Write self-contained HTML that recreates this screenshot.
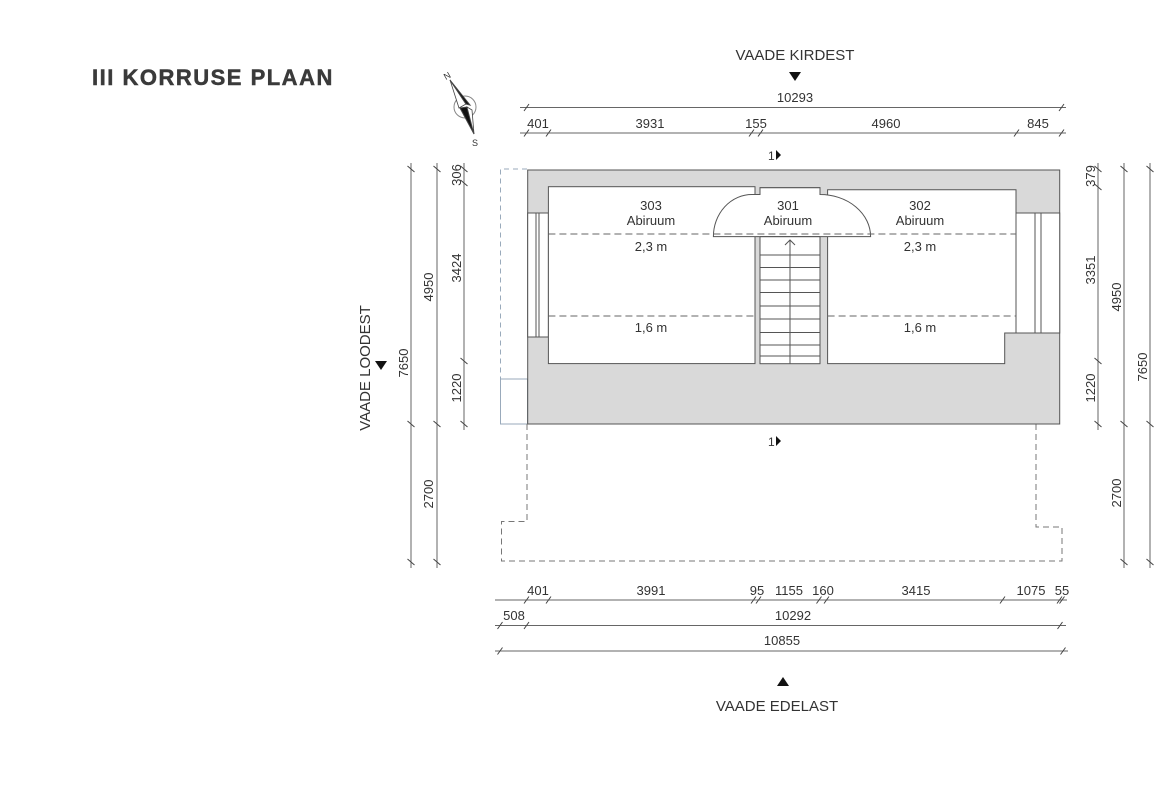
<!DOCTYPE html>
<html><head><meta charset="utf-8"><style>
html,body{margin:0;padding:0;background:#fff;}
svg{display:block;}
text{font-family:"Liberation Sans",sans-serif;fill:#333;}
</style></head><body>
<svg width="1170" height="785" viewBox="0 0 1170 785" xmlns="http://www.w3.org/2000/svg">
<text x="92" y="85" style="font-size:22px;font-weight:900;letter-spacing:1.5px;fill:#3a3a3a;stroke:#3a3a3a;stroke-width:0.5">III KORRUSE PLAAN</text>

<!-- compass -->
<g stroke="#444" fill="none">
<circle cx="465" cy="107" r="11" stroke="#888" stroke-width="1"/>
<path d="M450 80 L466 104 L459 108 Z" fill="#fff" stroke-width="0.8"/>
<path d="M450 80 L470 105 L466 104 Z" fill="#111"/>
<path d="M474 134 L460 108 L467 107 Z" fill="#111"/>
<path d="M474 134 L467 107 L472 110 Z" fill="#fff" stroke-width="0.8"/>
</g>
<text x="444" y="79" style="font-size:9px" transform="rotate(-30 447 76)">N</text>
<text x="472" y="146" style="font-size:9px">S</text>

<!-- view labels -->
<text x="795" y="60" text-anchor="middle" style="font-size:15px">VAADE KIRDEST</text>
<path d="M789 72 L801 72 L795 81 Z" fill="#111"/>
<path d="M777 686 L789 686 L783 677 Z" fill="#111"/>
<text x="777" y="711" text-anchor="middle" style="font-size:15px">VAADE EDELAST</text>
<text transform="translate(370 368) rotate(-90)" text-anchor="middle" style="font-size:15px">VAADE LOODEST</text>
<path d="M375 361 L387 361 L381 370 Z" fill="#111"/>

<!-- dimension lines -->
<g stroke="#666" stroke-width="1" fill="none">
<line x1="520" y1="107.5" x2="1066" y2="107.5"/>
<line x1="520" y1="133" x2="1066" y2="133"/>
<line x1="495" y1="600" x2="1067" y2="600"/>
<line x1="495" y1="625.5" x2="1066" y2="625.5"/>
<line x1="495" y1="651" x2="1068" y2="651"/>
<line x1="411" y1="163" x2="411" y2="568"/>
<line x1="437" y1="163" x2="437" y2="568"/>
<line x1="464" y1="163" x2="464" y2="430"/>
<line x1="1098" y1="163" x2="1098" y2="430"/>
<line x1="1124" y1="163" x2="1124" y2="568"/>
<line x1="1150" y1="163" x2="1150" y2="568"/>
</g>
<g stroke="#444" stroke-width="1">
<path d="M524 111 l5 -7 M1059 111 l5 -7
M524 136.5 l5 -7 M546 136.5 l5 -7 M749 136.5 l5 -7 M758 136.5 l5 -7 M1014 136.5 l5 -7 M1059 136.5 l5 -7
M524 603.5 l5 -7 M546 603.5 l5 -7 M751 603.5 l5 -7 M756 603.5 l5 -7 M816.5 603.5 l5 -7 M824 603.5 l5 -7 M1000 603.5 l5 -7 M1057 603.5 l5 -7 M1059.5 603.5 l5 -7
M497.5 629 l5 -7 M524 629 l5 -7 M1057.5 629 l5 -7
M497.5 654.5 l5 -7 M1060.5 654.5 l5 -7"/>
<path d="M407.5 166 l7 6 M407.5 421 l7 6 M407.5 559 l7 6
M433.5 166 l7 6 M433.5 421 l7 6 M433.5 559 l7 6
M460.5 166 l7 6 M460.5 180 l7 6 M460.5 358 l7 6 M460.5 421 l7 6
M1094.5 166 l7 6 M1094.5 184 l7 6 M1094.5 358 l7 6 M1094.5 421 l7 6
M1120.5 166 l7 6 M1120.5 421 l7 6 M1120.5 559 l7 6
M1146.5 166 l7 6 M1146.5 421 l7 6 M1146.5 559 l7 6"/>
</g>
<g style="font-size:13px" text-anchor="middle">
<text x="795" y="102">10293</text>
<text x="538" y="128">401</text><text x="650" y="128">3931</text><text x="756" y="128">155</text><text x="886" y="128">4960</text><text x="1038" y="128">845</text>
<text x="538" y="595">401</text><text x="651" y="595">3991</text><text x="757" y="595">95</text><text x="789" y="595">1155</text><text x="823" y="595">160</text><text x="916" y="595">3415</text><text x="1031" y="595">1075</text><text x="1062" y="595">55</text>
<text x="514" y="620">508</text><text x="793" y="620">10292</text>
<text x="782" y="645">10855</text>
<text transform="translate(408 363) rotate(-90)">7650</text>
<text transform="translate(433 287) rotate(-90)">4950</text>
<text transform="translate(433 494) rotate(-90)">2700</text>
<text transform="translate(461 175) rotate(-90)">306</text>
<text transform="translate(461 268) rotate(-90)">3424</text>
<text transform="translate(461 388) rotate(-90)">1220</text>
<text transform="translate(1095 176) rotate(-90)">379</text>
<text transform="translate(1095 270) rotate(-90)">3351</text>
<text transform="translate(1095 388) rotate(-90)">1220</text>
<text transform="translate(1121 297) rotate(-90)">4950</text>
<text transform="translate(1121 493) rotate(-90)">2700</text>
<text transform="translate(1147 367) rotate(-90)">7650</text>
</g>

<text x="768" y="160" style="font-size:12px">1</text><path d="M776 150 L781 155 L776 160 Z" fill="#111"/>
<text x="768" y="446" style="font-size:12px">1</text><path d="M776 436 L781 441 L776 446 Z" fill="#111"/>

<g fill="none" stroke="#9ab" stroke-width="1">
<path d="M527 169 L500.5 169 L500.5 379" stroke-dasharray="5,4"/>
<rect x="500.5" y="379" width="27" height="45"/>
</g>
<path d="M527 424 L527 521.5 L501.5 521.5 L501.5 561 L1062 561 L1062 527 L1036 527 L1036 424" fill="none" stroke="#777" stroke-width="1" stroke-dasharray="6,4"/>

<rect x="527.7" y="170" width="532" height="254" fill="#d9d9d9" stroke="#555" stroke-width="1"/>
<g fill="#fff" stroke="#555" stroke-width="1">
<rect x="527.7" y="213" width="20.7" height="124"/>
<rect x="1016" y="213" width="43.7" height="120"/>
<rect x="548.4" y="186.7" width="206.6" height="176.9"/>
<path d="M827.6 189.8 L1016 189.8 L1016 333 L1004.7 333 L1004.7 363.6 L827.6 363.6 Z"/>
<rect x="760" y="187.7" width="60" height="176"/>
<path d="M752 194.5 L760 194.5 L760 187.7 L820 187.7 L820 194.5 A50.6 42.1 0 0 1 870.6 236.6 L713.4 236.6 A38.6 42.1 0 0 1 752 194.5 Z"/>
</g>
<g stroke="#555" stroke-width="1">
<line x1="536" y1="213" x2="536" y2="337"/><line x1="539" y1="213" x2="539" y2="337"/>
<line x1="1035" y1="213" x2="1035" y2="333"/><line x1="1041" y1="213" x2="1041" y2="333"/>
<line x1="760" y1="236.6" x2="820" y2="236.6"/>
<path d="M760 255 H820 M760 267.5 H820 M760 280 H820 M760 292.5 H820 M760 306 H820 M760 319 H820 M760 332.5 H820 M760 345 H820 M760 356 H820"/>
<line x1="790" y1="240" x2="790" y2="363.6"/>
<path d="M785 245 L790 240 L795 245" fill="none"/>
</g>
<g stroke="#666" stroke-width="1" stroke-dasharray="7,4">
<line x1="548.4" y1="234" x2="1016" y2="234"/>
<line x1="548.4" y1="316" x2="755" y2="316"/>
<line x1="827.6" y1="316" x2="1016" y2="316"/>
</g>
<g style="font-size:13px" text-anchor="middle">
<text x="651" y="210">303</text><text x="651" y="225">Abiruum</text>
<text x="788" y="210">301</text><text x="788" y="225">Abiruum</text>
<text x="920" y="210">302</text><text x="920" y="225">Abiruum</text>
<text x="651" y="251">2,3 m</text><text x="920" y="251">2,3 m</text>
<text x="651" y="332">1,6 m</text><text x="920" y="332">1,6 m</text>
</g>
</svg>
</body></html>
